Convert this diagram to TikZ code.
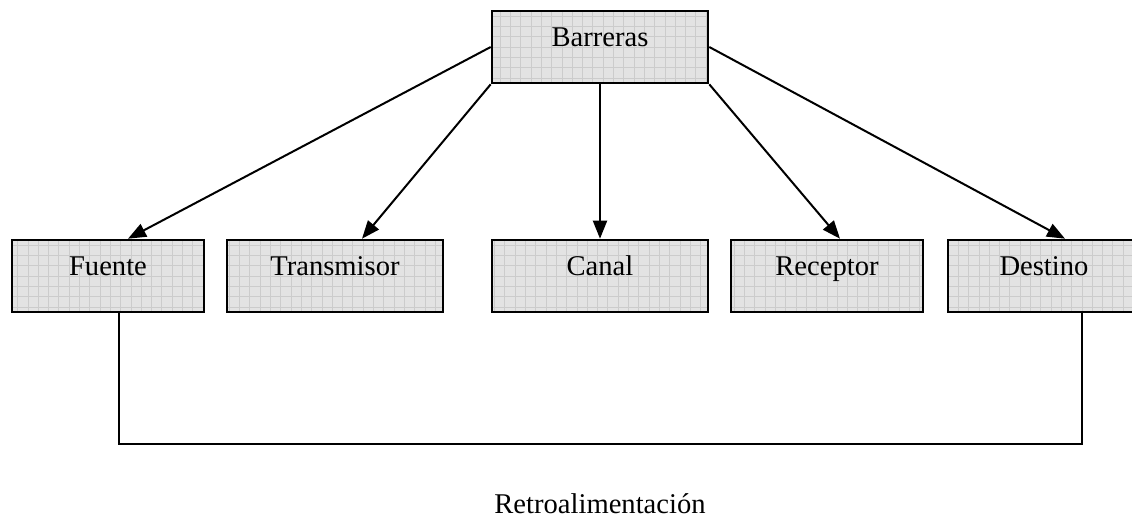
\documentclass[tikz,border=0pt]{standalone}
\usepackage{fontspec}
\setmainfont{Liberation Serif}
\usepackage{tikz}
\usetikzlibrary{positioning,calc,arrows.meta}

\begin{document}
\begin{tikzpicture}[x=0.5pt,y=-0.5pt,
  caja/.style={draw, line width=1.3pt, fill=gray!22, minimum height=36pt, inner sep=0pt,
    text height=10pt, text depth=10pt, font=\fontsize{14.3}{17}\selectfont,
    path picture={\draw[gray!40, line width=0.35pt] (path picture bounding box.south west) grid[step=5.15pt] (path picture bounding box.north east);}},
  flecha/.style={-{Triangle[length=9pt,width=7pt]}, line width=1pt}]
\useasboundingbox (0,0) rectangle (1132,519);
\node[caja, minimum width=108pt] (barreras) at (600,47) {Barreras};
\node[caja, minimum width=96pt] (fuente) at (108,276) {Fuente};
\node[caja, minimum width=108pt] (transmisor) at (335,276) {Transmisor};
\node[caja, minimum width=108pt] (canal) at (600,276) {Canal};
\node[caja, minimum width=96pt] (receptor) at (827,276) {Receptor};
\node[caja, minimum width=96pt] (destino) at (1044,276) {Destino};
% flechas desde barreras
\draw[flecha] (barreras.west) -- (fuente.north -| 128,0);
\draw[flecha] (barreras.south west) -- (transmisor.north -| 362,0);
\draw[flecha] (barreras.south) -- (canal.north);
\draw[flecha] (barreras.south east) -- (receptor.north -| 840,0);
\draw[flecha] (barreras.east) -- (destino.north -| 1065,0);
% retroalimentacion
\draw[line width=1.3pt] (fuente.south -| 119,0) -- (119,444) -- (1082,444) -- (destino.south -| 1082,0);
\node[font=\fontsize{14.3}{17}\selectfont, inner sep=0pt, anchor=base] (retro) at (600,513) {Retroalimentación};
\end{tikzpicture}
\end{document}
